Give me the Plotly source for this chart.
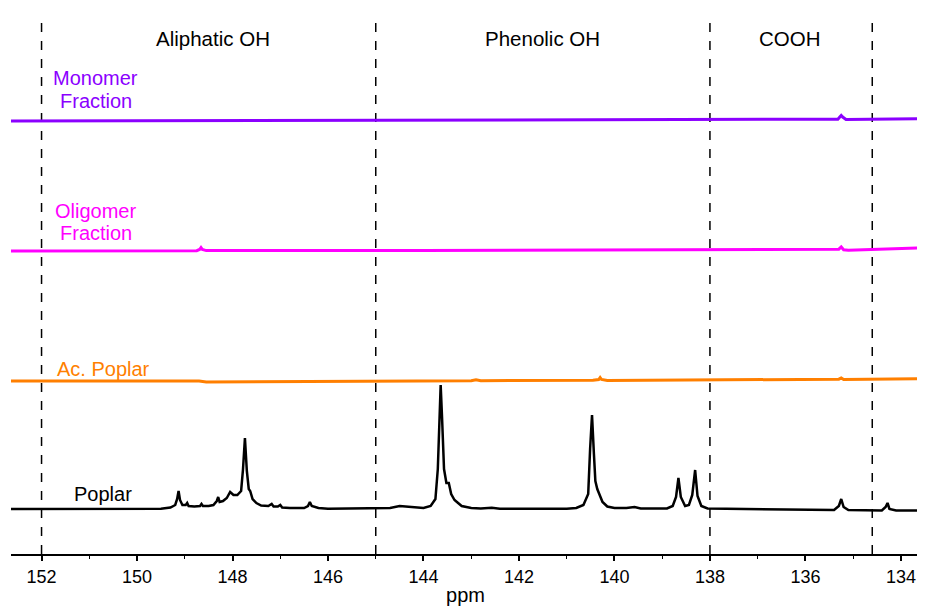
import plotly.graph_objects as go

# chemical shift (ppm) and intensity points
poplar_ppm = [
    152.64, 150.0, 149.5, 149.3, 149.2, 149.16, 149.13, 149.10, 149.05, 148.98,
    148.95, 148.92, 148.8, 148.68, 148.65, 148.62, 148.5, 148.4, 148.33, 148.30,
    148.27, 148.2, 148.12, 148.05, 147.98, 147.9, 147.82, 147.78, 147.74, 147.70,
    147.66, 147.63, 147.58, 147.5, 147.4, 147.25, 147.18, 147.14, 147.05, 147.0,
    146.96, 146.8, 146.5, 146.42, 146.38, 146.34, 146.2, 146.0, 145.0, 144.7,
    144.5, 144.3, 144.0, 143.85, 143.75, 143.70, 143.67, 143.64, 143.61, 143.57,
    143.52, 143.47, 143.42, 143.35, 143.30, 143.2, 143.0, 142.8, 142.57, 142.4,
    141.0, 140.8, 140.65, 140.55, 140.51, 140.47, 140.43, 140.40, 140.36, 140.31,
    140.25, 140.15, 140.0, 139.75, 139.58, 139.45, 138.9, 138.78, 138.71, 138.66,
    138.61, 138.52, 138.44, 138.37, 138.31, 138.26, 138.18, 138.05, 136.0, 135.4,
    135.3, 135.25, 135.2, 135.1, 134.4, 134.32, 134.28, 134.24, 134.1, 133.6,
]
poplar_int = [
    0, 0, 0.3, 1.5, 4, 10, 18, 9, 4, 4,
    6, 3, 2.5, 3, 5, 3, 3, 4, 8, 12,
    7, 8, 11, 17, 14, 14, 18, 40, 71, 38,
    20, 18, 10, 6, 3.5, 3, 5, 2.5, 2.5, 4,
    1.5, 1, 1, 3, 7, 3, 1, 0.3, 0.3, 1,
    3, 2.5, 1, 3, 10, 40, 90, 124, 90, 40,
    26, 26, 15, 9, 7, 3, 1, 0.5, 1.2, 0.3,
    0.3, 1, 4, 15, 60, 94, 55, 28, 20, 14,
    7, 2.5, 1, 1, 2, 0.5, 0.5, 3, 12, 31,
    12, 3, 4, 14, 39, 13, 3, 0.5, -1, -1,
    3, 10, 2, -1, -1.5, 2, 6, 0, -1.5, -1.5,
]

ac_poplar_ppm = [152.64, 148.7, 148.55, 146.0, 143.0, 142.9, 142.8, 140.45, 140.33,
                 140.30, 140.27, 140.15, 136.0, 135.3, 135.25, 135.2, 133.6]
ac_poplar_int = [0, 0, -1, -0.5, 0.3, 1.3, 0.3, 0.8, 1.5,
                 3.5, 1.5, 0.5, 1.5, 1.8, 3, 1.5, 2.2]

oligomer_ppm = [152.64, 148.75, 148.69, 148.66, 148.63, 148.55, 144.0, 140.0, 136.0,
                135.3, 135.25, 135.2, 135.1, 134.2, 133.6]
oligomer_int = [0, 0.3, 1.5, 3.5, 1.5, 0.4, 0.6, 1, 1.5,
                1.8, 4, 1.2, 0.8, 1.8, 3]

monomer_ppm = [152.64, 146.0, 140.0, 136.0, 135.32, 135.28, 135.25, 135.22, 135.15, 133.6]
monomer_int = [0, 0.5, 1, 1.6, 1.8, 4, 5.5, 4, 1.6, 2.2]

series_names = ["Poplar", "Ac. Poplar", "Oligomer Fraction", "Monomer Fraction"]
# each spectrum label, one entry per text line
series_label_lines = [["Poplar"], ["Ac. Poplar"], ["Oligomer", "Fraction"], ["Monomer", "Fraction"]]
region_labels = ["Aliphatic OH", "Phenolic OH", "COOH"]
region_label_ppm = [148.41, 141.5, 136.32]
divider_ppm = [152.0, 145.0, 138.0, 134.6]

# vertical stacking of the spectra
offsets = [0, 128, 258, 388]
colors = ["#000000", "#FF7F00", "#FF00FF", "#8B00FF"]
widths = [2.5, 3, 3, 3]
label_ppm = [150.71, 150.71, 150.87, 150.87]
label_line_y = [[15], [140], [298, 276], [431, 408]]

FONT = "Liberation Sans, Arial, sans-serif"

fig = go.Figure()

spectra = [
    (poplar_ppm, poplar_int),
    (ac_poplar_ppm, ac_poplar_int),
    (oligomer_ppm, oligomer_int),
    (monomer_ppm, monomer_int),
]
for (ppm, inten), name, off, col, w in zip(spectra, series_names, offsets, colors, widths):
    fig.add_trace(
        go.Scatter(
            x=ppm,
            y=[v + off for v in inten],
            mode="lines",
            name=name,
            line=dict(color=col, width=w),
            showlegend=False,
        )
    )

# dashed region dividers
for p in divider_ppm:
    fig.add_shape(
        type="line",
        xref="x",
        yref="paper",
        x0=p,
        x1=p,
        y0=0,
        y1=1,
        line=dict(color="black", width=1.5, dash="dash"),
        layer="below",
    )

# region titles
for txt, p in zip(region_labels, region_label_ppm):
    fig.add_annotation(
        x=p, y=471, text=txt, showarrow=False,
        font=dict(size=20.5, color="black", family=FONT),
    )

# spectrum labels
for lines, p, ys, col in zip(series_label_lines, label_ppm, label_line_y, colors):
    for txt, y in zip(lines, ys):
        fig.add_annotation(
            x=p, y=y, text=txt, showarrow=False,
            font=dict(size=20, color=col, family=FONT),
        )

# page body adds an 8px margin, so the figure is sized to the visible area
fig.update_layout(
    width=917,
    height=601,
    plot_bgcolor="white",
    paper_bgcolor="white",
    margin=dict(l=3, r=5, t=7, b=55),
    font=dict(family=FONT, size=18, color="black"),
    xaxis=dict(
        range=[152.64, 133.6],
        dtick=2,
        tick0=134,
        ticks="outside",
        ticklen=5,
        tickwidth=1.5,
        tickcolor="black",
        showline=True,
        linecolor="black",
        linewidth=2,
        showgrid=False,
        zeroline=False,
        minor=dict(dtick=1, ticks="outside", ticklen=3, tickcolor="black", tickwidth=1),
        title=dict(text="ppm", standoff=2, font=dict(size=20)),
        tickfont=dict(size=18),
    ),
    yaxis=dict(
        range=[-45, 494],
        visible=False,
        showgrid=False,
        zeroline=False,
    ),
)

fig.write_html("out.html")
